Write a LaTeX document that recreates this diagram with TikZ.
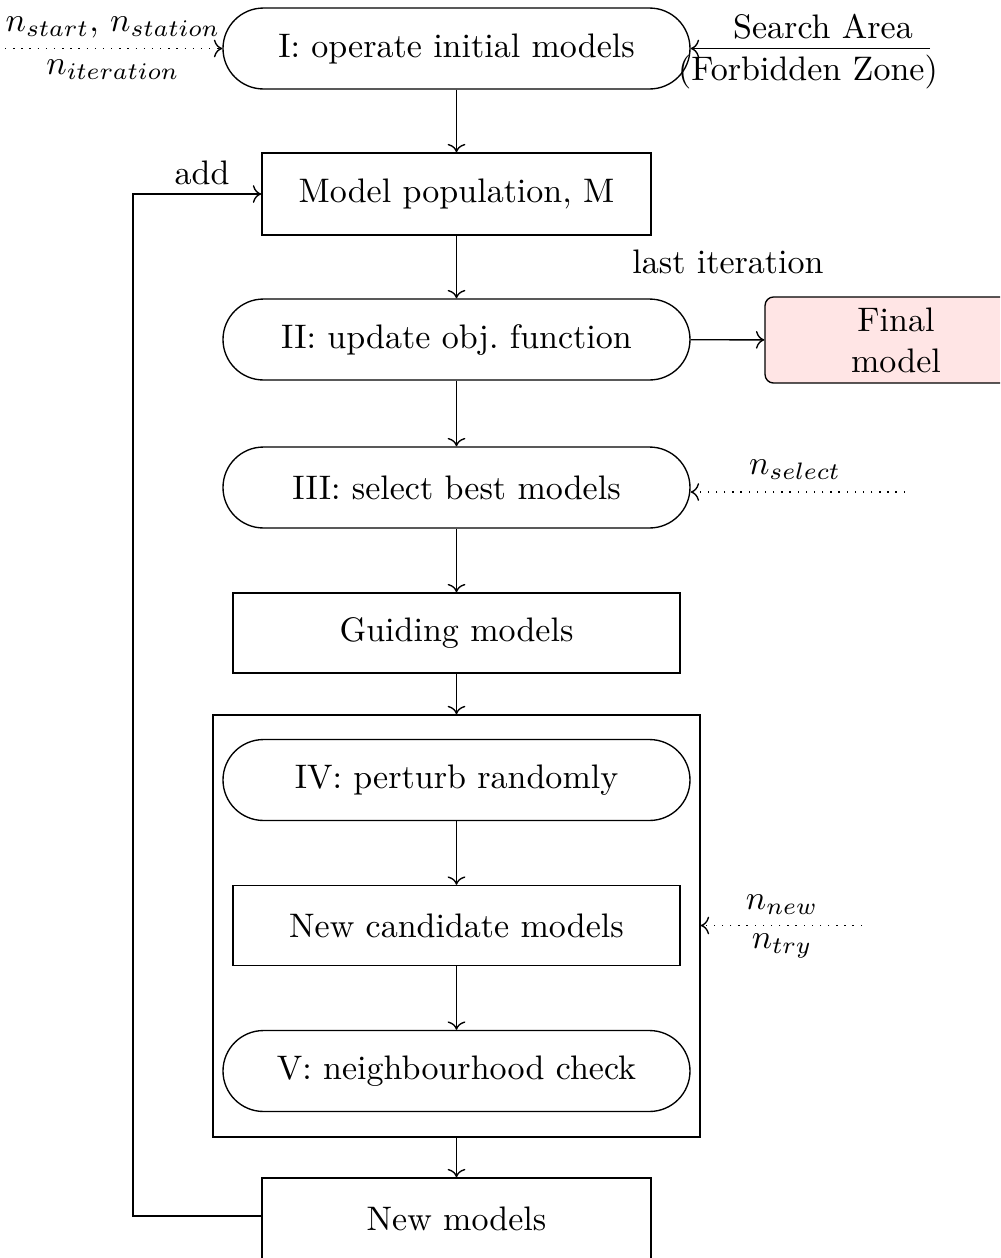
\documentclass[tikz,border=0pt]{standalone}
\usetikzlibrary{arrows.meta}
\begin{document}
\begin{tikzpicture}[x=0.294pt,y=-0.294pt,
  stadium/.style={draw, rectangle, rounded corners=11.9pt, minimum width=137.3pt, minimum height=23.8pt, inner sep=0pt},
  boxA/.style={draw, rectangle, minimum width=114.4pt, minimum height=24.1pt, inner sep=0pt},
  boxB/.style={draw, rectangle, minimum width=131.4pt, minimum height=23.5pt, inner sep=0pt},
  finalbox/.style={draw, rectangle, rounded corners=2.5pt, fill=red!10, minimum width=77pt, minimum height=25.3pt, inner sep=0pt, align=center},
  lbl/.style={inner sep=0pt},
  flow/.style={->, >=To},
  dotflow/.style={->, >=To, dotted}]
\clip (0,0) rectangle (1000,1258);
\useasboundingbox (0,0) rectangle (1000,1258);

\node[stadium] (s1) at (456.5,48.5) {I: operate initial models};
\node[boxA] (mp) at (456.5,194) {Model population, M};
\node[stadium] (s2) at (456.5,339.5) {II: update obj.\ function};
\node[finalbox] (fm) at (896,340) {Final\\model};
\node[stadium] (s3) at (456.5,487.5) {III: select best models};
\node[boxB] (gm) at (456.5,633) {Guiding models};
\node[draw, rectangle, minimum width=143.2pt, minimum height=124.1pt, inner sep=0pt] (big) at (456.5,926) {};
\node[stadium] (s4) at (456.5,780) {IV: perturb randomly};
\node[boxB] (nc) at (456.5,925.5) {New candidate models};
\node[stadium] (s5) at (456.5,1071) {V: neighbourhood check};
\node[boxA] (nm) at (456.5,1219) {New models};

% inputs
\coordinate (inL) at (5,48.5);
\coordinate (inR) at (930,48.5);
\coordinate (inSel) at (905,492);
\coordinate (inNew) at (862,925.5);
\draw[dotflow] (inL) -- (s1.west);
\node[lbl] (tStart) at (113,27) {$n_{start}$, $n_{station}$};
\node[lbl] (tIter) at (113,70) {$n_{iteration}$};
\draw[flow] (inR) -- (s1.east);
\node[lbl] (tSearch) at (823,27) {Search Area};
\node[lbl] (tForb) at (808,72) {(Forbidden Zone)};
\draw[dotflow] (inSel) -- (s3.east |- inSel);
\node[lbl] (tSel) at (795,470) {$n_{select}$};
\draw[dotflow] (inNew) -- (big.east |- inNew);
\node[lbl] (tNew) at (782,905) {$n_{new}$};
\node[lbl] (tTry) at (782,946) {$n_{try}$};

% main flow
\draw[flow] (s1) -- (mp);
\draw[flow] (mp) -- (s2);
\draw[flow] (s2) -- (fm);
\node[lbl] (tLast) at (728,262) {last iteration};
\draw[flow] (s2) -- (s3);
\draw[flow] (s3) -- (gm);
\draw[flow] (gm) -- (big);
\draw[flow] (s4) -- (nc);
\draw[flow] (nc) -- (s5);
\draw[flow] (big) -- (nm);

% feedback
\coordinate (fbB) at (133,1216);
\draw[flow] (nm.west |- fbB) -- (fbB) -- (133,194) -- (mp.west);
\node[lbl] (tAdd) at (202,173) {add};
\end{tikzpicture}
\end{document}
